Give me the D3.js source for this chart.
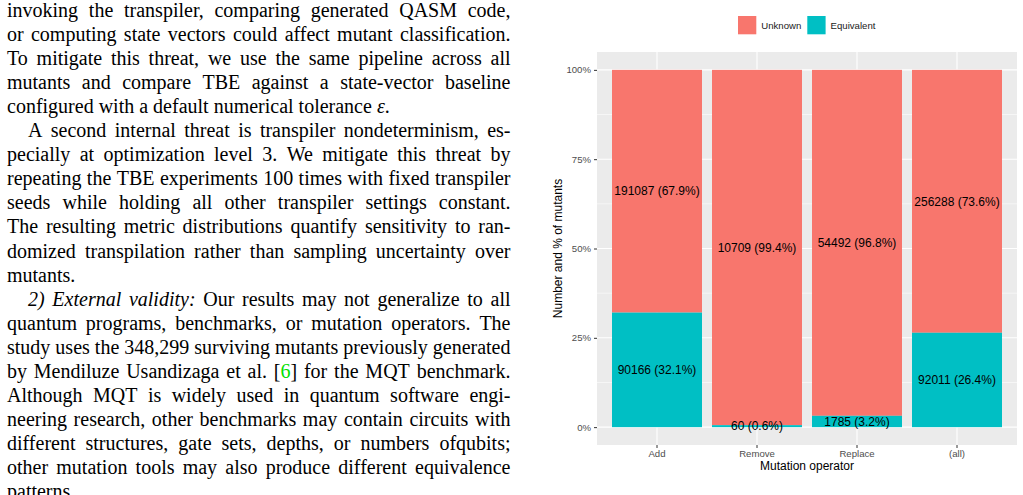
<!DOCTYPE html>
<html>
<head>
<meta charset="utf-8">
<script src="https://cdn.jsdelivr.net/npm/d3@7"></script>
<style>
  body { margin: 0; background: #fff; }
  svg { display: block; }
</style>
</head>
<body>
<script>
// chart data
const operators = ["Add", "Remove", "Replace", "(all)"];
const unknownCounts = [191087, 10709, 54492, 256288];
const equivalentCounts = [90166, 60, 1785, 92011];
const seriesNames = ["Unknown", "Equivalent"];
const seriesColors = ["#F8766D", "#00BFC4"];
const yTicks = [0, 0.25, 0.5, 0.75, 1];
const yMinorTicks = [0.125, 0.375, 0.625, 0.875];

// paper text next to the figure (*..* italic, {..} link colour, > indent)
const textLines = [
  "invoking the transpiler, comparing generated QASM code,",
  "or computing state vectors could affect mutant classification.",
  "To mitigate this threat, we use the same pipeline across all",
  "mutants and compare TBE against a state-vector baseline",
  "configured with a default numerical tolerance *ε*.|",
  ">A second internal threat is transpiler nondeterminism, es-",
  "pecially at optimization level 3. We mitigate this threat by",
  "repeating the TBE experiments 100 times with fixed transpiler",
  "seeds while holding all other transpiler settings constant.",
  "The resulting metric distributions quantify sensitivity to ran-",
  "domized transpilation rather than sampling uncertainty over",
  "mutants.|",
  ">*2) External validity:* Our results may not generalize to all",
  "quantum programs, benchmarks, or mutation operators. The",
  "study uses the 348,299 surviving mutants previously generated",
  "by Mendiluze Usandizaga et al. [{6}] for the MQT benchmark.",
  "Although MQT is widely used in quantum software engi-",
  "neering research, other benchmarks may contain circuits with",
  "different structures, gate sets, depths, or numbers ofqubits;",
  "other mutation tools may also produce different equivalence",
  "patterns.|"
];

const W = 1023, H = 495;
const svg = d3.select("body").append("svg")
  .attr("width", W).attr("height", H);

// ---- left column of text, justified ----
const textLeft = 7, textRight = 510.5, indent = 21;
const lineTop = 17, lineStep = 24.05;
const serif = "'Liberation Serif', 'Times New Roman', serif";
const textG = svg.append("g")
  .style("font-family", serif).style("font-size", "20px").attr("fill", "#000");

function parseWords(str) {
  const words = [];
  let cur = [], italic = false, green = false, buf = "";
  const flush = () => { if (buf) { cur.push({t: buf, italic, green}); buf = ""; } };
  for (const ch of str) {
    if (ch === "*") { flush(); italic = !italic; }
    else if (ch === "{") { flush(); green = true; }
    else if (ch === "}") { flush(); green = false; }
    else if (ch === " ") { flush(); if (cur.length) words.push(cur); cur = []; }
    else buf += ch;
  }
  flush();
  if (cur.length) words.push(cur);
  return words;
}

textLines.forEach((raw, i) => {
  let s = raw, isLast = false, x0 = textLeft;
  if (s.startsWith(">")) { s = s.slice(1); x0 += indent; }
  if (s.endsWith("|")) { s = s.slice(0, -1); isLast = true; }
  const yb = lineTop + i * lineStep;
  const words = parseWords(s);
  const nodes = words.map(w => {
    const t = textG.append("text").attr("y", yb);
    w.forEach(seg => {
      t.append("tspan").text(seg.t)
        .style("font-style", seg.italic ? "italic" : null)
        .attr("fill", seg.green ? "#00E000" : null);
    });
    return t;
  });
  const widths = nodes.map(n => n.node().getComputedTextLength());
  const total = d3.sum(widths);
  const gap = isLast || nodes.length < 2 ? 5 : (textRight - x0 - total) / (nodes.length - 1);
  let x = x0;
  nodes.forEach((n, k) => { n.attr("x", x); x += widths[k] + gap; });
});

// ---- chart ----
const panel = {left: 597, right: 1017, top: 52, bottom: 445};
const sans = "'Liberation Sans', Arial, Helvetica, sans-serif";

const x = d3.scaleBand()
  .domain(operators)
  .range([panel.left, panel.right])
  .paddingInner(0.1)
  .paddingOuter(0.15);

const y = d3.scaleLinear()
  .domain([-0.05, 1.05])
  .range([panel.bottom, panel.top]);

const chart = svg.append("g").style("font-family", sans);

chart.append("rect")
  .attr("x", panel.left).attr("y", panel.top)
  .attr("width", panel.right - panel.left)
  .attr("height", panel.bottom - panel.top)
  .attr("fill", "#EBEBEB");

// grid
chart.append("g").selectAll("line").data(yMinorTicks).join("line")
  .attr("x1", panel.left).attr("x2", panel.right)
  .attr("y1", d => y(d)).attr("y2", d => y(d))
  .attr("stroke", "#fff").attr("stroke-width", 0.55);
chart.append("g").selectAll("line").data(yTicks).join("line")
  .attr("x1", panel.left).attr("x2", panel.right)
  .attr("y1", d => y(d)).attr("y2", d => y(d))
  .attr("stroke", "#fff").attr("stroke-width", 1.1);
chart.append("g").selectAll("line").data(operators).join("line")
  .attr("x1", d => x(d) + x.bandwidth() / 2).attr("x2", d => x(d) + x.bandwidth() / 2)
  .attr("y1", panel.top).attr("y2", panel.bottom)
  .attr("stroke", "#fff").attr("stroke-width", 1.1);

// stacked data: Equivalent at bottom, Unknown on top
const rows = operators.map((op, i) => {
  const total = unknownCounts[i] + equivalentCounts[i];
  const eq = equivalentCounts[i] / total, un = unknownCounts[i] / total;
  return [
    {op, series: 0, count: unknownCounts[i], p: un, y0: eq, y1: 1},
    {op, series: 1, count: equivalentCounts[i], p: eq, y0: 0, y1: eq}
  ];
}).flat();

chart.append("g").selectAll("rect").data(rows).join("rect")
  .attr("x", d => x(d.op))
  .attr("width", x.bandwidth())
  .attr("y", d => y(d.y1))
  .attr("height", d => y(d.y0) - y(d.y1))
  .attr("fill", d => seriesColors[d.series]);

const pctFmt = d3.format(".1f");
chart.append("g").selectAll("text").data(rows).join("text")
  .attr("x", d => x(d.op) + x.bandwidth() / 2)
  .attr("y", d => y((d.y0 + d.y1) / 2))
  .attr("dy", "0.35em")
  .attr("text-anchor", "middle")
  .style("font-size", "12px")
  .attr("fill", "#000")
  .text(d => `${d.count} (${pctFmt(d.p * 100)}%)`);

// axes
const yAxis = chart.append("g")
  .attr("transform", `translate(${panel.left},0)`)
  .call(d3.axisLeft(y).tickValues(yTicks).tickFormat(d3.format(".0%"))
    .tickSize(3).tickPadding(3));
const xAxis = chart.append("g")
  .attr("transform", `translate(0,${panel.bottom})`)
  .call(d3.axisBottom(x).tickSize(3).tickPadding(2.2));
[yAxis, xAxis].forEach(a => {
  a.select(".domain").remove();
  a.selectAll(".tick line").attr("stroke", "#333333").attr("stroke-width", 1);
  a.selectAll(".tick text").attr("fill", "#4D4D4D")
    .style("font-size", "9.6px").style("font-family", sans);
});

chart.append("text")
  .attr("x", (panel.left + panel.right) / 2).attr("y", 470)
  .attr("text-anchor", "middle").style("font-size", "12px")
  .text("Mutation operator");
chart.append("text")
  .attr("transform", `translate(561.5,${(panel.top + panel.bottom) / 2}) rotate(-90)`)
  .attr("text-anchor", "middle").style("font-size", "12px")
  .text("Number and % of mutants");

// legend
const legend = chart.append("g");
let lx = 738;
seriesNames.forEach((name, i) => {
  legend.append("rect")
    .attr("x", lx).attr("y", 16).attr("width", 18.3).attr("height", 18.3)
    .attr("fill", seriesColors[i]);
  const t = legend.append("text")
    .attr("x", lx + 18.3 + 5).attr("y", 25.2).attr("dy", "0.35em")
    .style("font-size", "9.6px").attr("fill", "#1a1a1a")
    .text(name);
  lx += 18.3 + 5 + t.node().getComputedTextLength() + 6;
});
</script>
</body>
</html>
